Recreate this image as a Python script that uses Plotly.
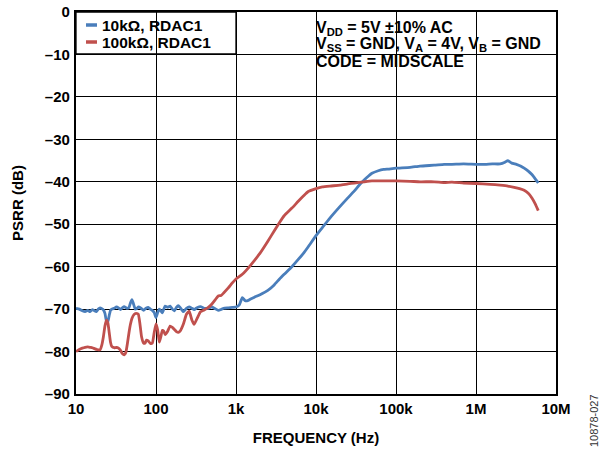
import plotly.graph_objects as go

# ---- data ----
freq_10k = [10, 11, 12, 13, 14, 15, 16, 17, 18, 19, 20, 21, 22, 23, 24, 25, 26, 27, 28, 30,
            32, 34, 36, 38, 40, 43, 46, 48, 50, 52, 55, 58, 60, 65, 70, 75, 80, 85, 90, 95,
            100, 105, 110, 115, 120, 125, 130, 140, 150, 160, 170, 180, 190, 200, 220, 240,
            260, 280, 300, 330, 360, 400, 450, 500, 550, 600, 650, 700, 800, 900, 1000, 1100,
            1200, 1300, 1400, 1500, 1700, 2000, 2500, 3000, 3500, 4000, 5000, 6000, 7000, 8000,
            10000, 12000, 15000, 20000, 25000, 30000, 35000, 40000, 45000, 50000, 60000, 70000,
            80000, 100000, 150000, 200000, 300000, 400000, 500000, 700000, 1e6, 1.3e6, 1.6e6,
            2e6, 2.3e6, 2.5e6, 2.8e6, 3.2e6, 3.6e6, 4e6, 4.5e6, 5e6, 5.5e6, 6e6]
psrr_10k = [-69.8, -70.0, -70.4, -70.6, -70.3, -70.6, -70.1, -70.4, -70.6, -70.0, -69.7, -69.9,
            -70.2, -71.0, -72.8, -73.0, -71.5, -70.3, -70.0, -69.8, -69.5, -69.7, -70.1, -69.7,
            -69.4, -69.8, -69.6, -68.5, -67.8, -68.6, -70.0, -69.8, -69.5, -69.8, -70.3, -69.8,
            -69.6, -70.0, -70.3, -70.8, -72.0, -70.8, -70.0, -70.4, -70.9, -70.0, -69.3, -69.6,
            -69.3, -70.0, -70.4, -69.6, -69.2, -69.6, -70.6, -69.8, -69.5, -69.8, -70.1, -69.6,
            -69.4, -69.8, -69.8, -69.5, -69.9, -70.3, -70.1, -69.8, -69.7, -69.6, -69.5, -69.0,
            -67.3, -68.0, -68.0, -67.7, -67.2, -66.6, -65.6, -64.3, -62.9, -61.8, -60.0, -58.3,
            -56.8, -55.3, -52.7, -50.8, -48.5, -45.8, -43.8, -42.2, -40.7, -39.6, -38.7, -38.0,
            -37.4, -37.1, -37.0, -36.8, -36.6, -36.3, -36.1, -35.9, -35.9, -35.8, -35.9, -35.9,
            -35.8, -35.8, -35.4, -35.0, -35.6, -35.9, -36.3, -36.8, -37.5, -38.3, -39.3, -40.3]

freq_100k = [10, 11, 12, 13, 14, 15, 16, 17, 18, 19, 20, 21, 22, 23, 24, 25, 26, 27, 28, 30,
             32, 34, 36, 38, 40, 42, 44, 46, 48, 50, 53, 56, 60, 63, 66, 70, 73, 76, 80, 85,
             90, 95, 100, 105, 110, 115, 120, 125, 130, 140, 150, 160, 170, 180, 190, 200, 220,
             240, 260, 280, 300, 330, 360, 400, 450, 500, 550, 600, 650, 700, 800, 900, 1000,
             1200, 1500, 2000, 2500, 3000, 3500, 4000, 5000, 6000, 7000, 8000, 10000, 12000,
             15000, 20000, 25000, 30000, 40000, 50000, 70000, 100000, 150000, 200000, 300000,
             400000, 500000, 700000, 1e6, 1.5e6, 2e6, 2.5e6, 3e6, 3.5e6, 4e6, 4.5e6, 5e6,
             5.5e6, 6e6]
psrr_100k = [-80.0, -79.5, -79.2, -79.0, -78.9, -79.0, -79.1, -79.3, -79.5, -79.6, -79.6, -78.5,
             -76.5, -74.0, -72.6, -73.2, -75.5, -77.8, -78.8, -79.1, -79.0, -79.2, -79.7, -80.5,
             -80.8, -80.2, -78.0, -75.5, -73.5, -72.2, -71.3, -71.0, -71.2, -73.5, -76.5, -78.0,
             -78.0, -77.3, -77.5, -78.1, -78.0, -75.5, -73.5, -75.0, -77.8, -76.5, -75.0, -75.2,
             -76.0, -75.2, -74.0, -74.3, -74.8, -75.3, -75.5, -75.2, -73.5, -71.2, -70.5, -72.5,
             -73.6, -72.0, -70.6, -70.2, -69.6, -68.8, -67.8, -66.9, -66.8, -66.2, -65.0, -63.8,
             -62.9, -61.8, -59.8, -56.8, -54.0, -51.6, -49.6, -48.0, -46.2, -44.6, -43.3, -42.3,
             -41.6, -41.2, -41.0, -40.8, -40.5, -40.3, -40.0, -39.8, -39.8, -39.8, -39.9, -40.0,
             -40.0, -40.2, -40.1, -40.3, -40.4, -40.6, -40.8, -41.0, -41.3, -41.6, -42.0, -42.7,
             -43.8, -45.2, -46.8]

series_names = ["10kΩ, RDAC1", "100kΩ, RDAC1"]
series_colors = ["#4A7EBB", "#C0504D"]

x_tickvals = [10, 100, 1000, 10000, 100000, 1000000, 10000000]
x_ticktext = ["10", "100", "1k", "10k", "100k", "1M", "10M"]
y_tickvals = [0, -10, -20, -30, -40, -50, -60, -70, -80, -90]
y_ticktext = ["0", "–10", "–20", "–30", "–40", "–50", "–60", "–70", "–80", "–90"]

cond_lines = ["V<sub>DD</sub> = 5V ±10% AC",
              "V<sub>SS</sub> = GND, V<sub>A</sub> = 4V, V<sub>B</sub> = GND",
              "CODE = MIDSCALE"]

FONT = "Liberation Sans, Arial, sans-serif"

fig = go.Figure()
for xs, ys, name, col in [(freq_10k, psrr_10k, series_names[0], series_colors[0]),
                          (freq_100k, psrr_100k, series_names[1], series_colors[1])]:
    fig.add_trace(go.Scatter(x=xs, y=ys, mode="lines", name=name,
                             line=dict(color=col, width=2.8, shape="spline", smoothing=0.4),
                             showlegend=False))

# plot area in px: left 76, right 556, top 12, bottom 394
W, H = 607, 452
L, R, T, B = 76, 556, 12, 394
def px(x):
    return (x - L) / (R - L)
def py(y):
    return (B - y) / (B - T)

shapes = [
    # legend box
    dict(type="rect", xref="paper", yref="paper", x0=0, x1=px(236), y0=py(54), y1=1,
         fillcolor="white", line=dict(color="black", width=1.3), layer="between"),
    # condition box
    dict(type="rect", xref="paper", yref="paper", x0=px(307), x1=px(552), y0=py(73), y1=1,
         fillcolor="white", line=dict(width=0), layer="between"),
]
annotations = []
for i, (name, col) in enumerate(zip(series_names, series_colors)):
    yy = py(25 + 17 * i)
    shapes.append(dict(type="line", xref="paper", yref="paper", x0=px(86), x1=px(97),
                       y0=yy, y1=yy, line=dict(color=col, width=3.5)))
    annotations.append(dict(xref="paper", yref="paper", x=px(100), y=yy, text=name,
                            showarrow=False, xanchor="left", yanchor="middle",
                            font=dict(family=FONT, size=15.5, color="black", weight="bold")))
for i, t in enumerate(cond_lines):
    annotations.append(dict(xref="paper", yref="paper", x=px(314), y=py(28 + 17 * i), text=t,
                            showarrow=False, xanchor="left", yanchor="middle",
                            font=dict(family=FONT, size=16, color="black", weight="bold")))
annotations.append(dict(xref="paper", yref="paper", x=px(594), y=py(421), text="10878-027",
                        textangle=-90, showarrow=False, xanchor="center", yanchor="middle",
                        font=dict(family=FONT, size=11, color="#333333")))

fig.update_layout(
    width=W, height=H,
    margin=dict(l=L, r=W - R, t=T, b=H - B, autoexpand=False),
    paper_bgcolor="white", plot_bgcolor="white",
    font=dict(family=FONT, size=15, color="black"),
    shapes=shapes, annotations=annotations,
    showlegend=False,
)
fig.update_xaxes(type="log", range=[1, 7], tickvals=x_tickvals, ticktext=x_ticktext,
                 automargin=False,
                 showgrid=True, gridcolor="black", gridwidth=1.3,
                 showline=True, linecolor="black", linewidth=2.2, mirror=True,
                 ticks="", ticklabelstandoff=0, zeroline=False,
                 tickfont=dict(family=FONT, size=15, weight="bold"),
                 title=dict(text="FREQUENCY (Hz)", standoff=16,
                            font=dict(family=FONT, size=15, weight="bold")))
fig.update_yaxes(range=[-90, 0], tickvals=y_tickvals, ticktext=y_ticktext,
                 automargin=False,
                 showgrid=True, gridcolor="black", gridwidth=1.3,
                 showline=True, linecolor="black", linewidth=2.2, mirror=True,
                 ticks="", ticklabelstandoff=1, zeroline=False,
                 tickfont=dict(family=FONT, size=15, weight="bold"),
                 title=dict(text="PSRR (dB)", standoff=18,
                            font=dict(family=FONT, size=15, weight="bold")))

# remove the browser's default 8px page margin so the figure fills the window
fig.write_html("out.html", config={"displayModeBar": False},
               post_script="document.body.style.margin='0px';")
